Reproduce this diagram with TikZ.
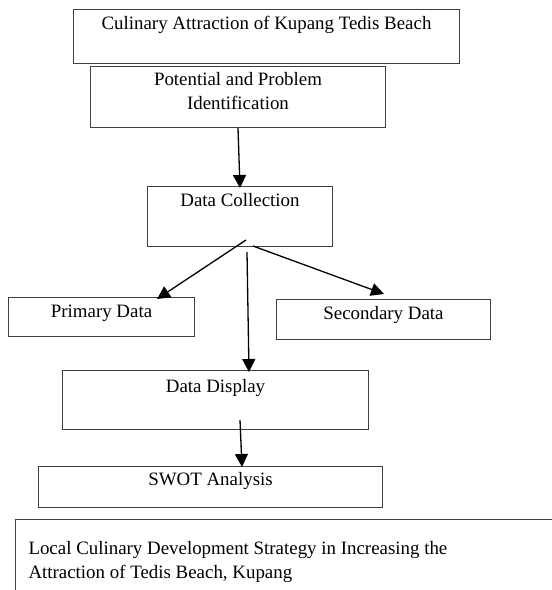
\documentclass[tikz,border=0pt]{standalone}
\usepackage{fontspec}
\setmainfont{Liberation Serif}
\usetikzlibrary{arrows.meta}
\begin{document}
\begin{tikzpicture}[x=1pt,y=-1pt,
  box/.style={draw=black!75, line width=1pt, rectangle, inner sep=0pt, anchor=north west,
    font=\fontsize{18.9}{24}\selectfont},
  conn/.style={draw=black, line width=1.3pt, -{Triangle[length=13pt,width=13pt]}}]
\useasboundingbox (0,0) rectangle (552,590);
\clip (0,0) rectangle (552,590);
\fill[white] (0,0) rectangle (552,590);
% boxes
\node[box, minimum width=386pt, text height=20pt, text depth=34pt] (b1) at (73,9) {Culinary Attraction of Kupang Tedis Beach};
\node[box, minimum width=295pt, text height=19pt, text depth=42pt] (b2) at (90,66)
  {\begin{tabular}[t]{@{}c@{}}Potential and Problem\\Identification\end{tabular}};
\node[box, minimum width=185pt, text height=20pt, text depth=40pt] (b3) at (147,186) {Data Collection};
\node[box, minimum width=186pt, text height=20pt, text depth=19pt] (b4) at (8,297) {Primary Data};
\node[box, minimum width=214pt, text height=20pt, text depth=20pt] (b5) at (276,299) {Secondary Data};
\node[box, minimum width=306pt, text height=22pt, text depth=37pt] (b6) at (62,370) {Data Display};
\node[box, minimum width=344pt, text height=19pt, text depth=22pt] (b7) at (38,466) {SWOT Analysis};
\node[box, inner xsep=13pt, text height=35pt, text depth=55pt] (b8) at (15,519)
  {\begin{tabular}[t]{@{}p{534pt}@{}}Local Culinary Development Strategy in Increasing the\\Attraction of Tedis Beach, Kupang\end{tabular}};
% connector end points
\coordinate (p1) at (246,240);
\coordinate (p2) at (253,246);
\coordinate (p3) at (247,252);
\coordinate (q1) at (157,299);
\coordinate (q2) at (384,294);
\coordinate (q3) at (249,372);
\coordinate (p4) at (240,420);
\coordinate (q4) at (242,467);
\coordinate (q0) at (240,188);
% connectors
\draw[conn] (b2.south) -- (q0);
\draw[conn] (p1) -- (q1);
\draw[conn] (p2) -- (q2);
\draw[conn] (p3) -- (q3);
\draw[conn] (p4) -- (q4);
\end{tikzpicture}
\end{document}
